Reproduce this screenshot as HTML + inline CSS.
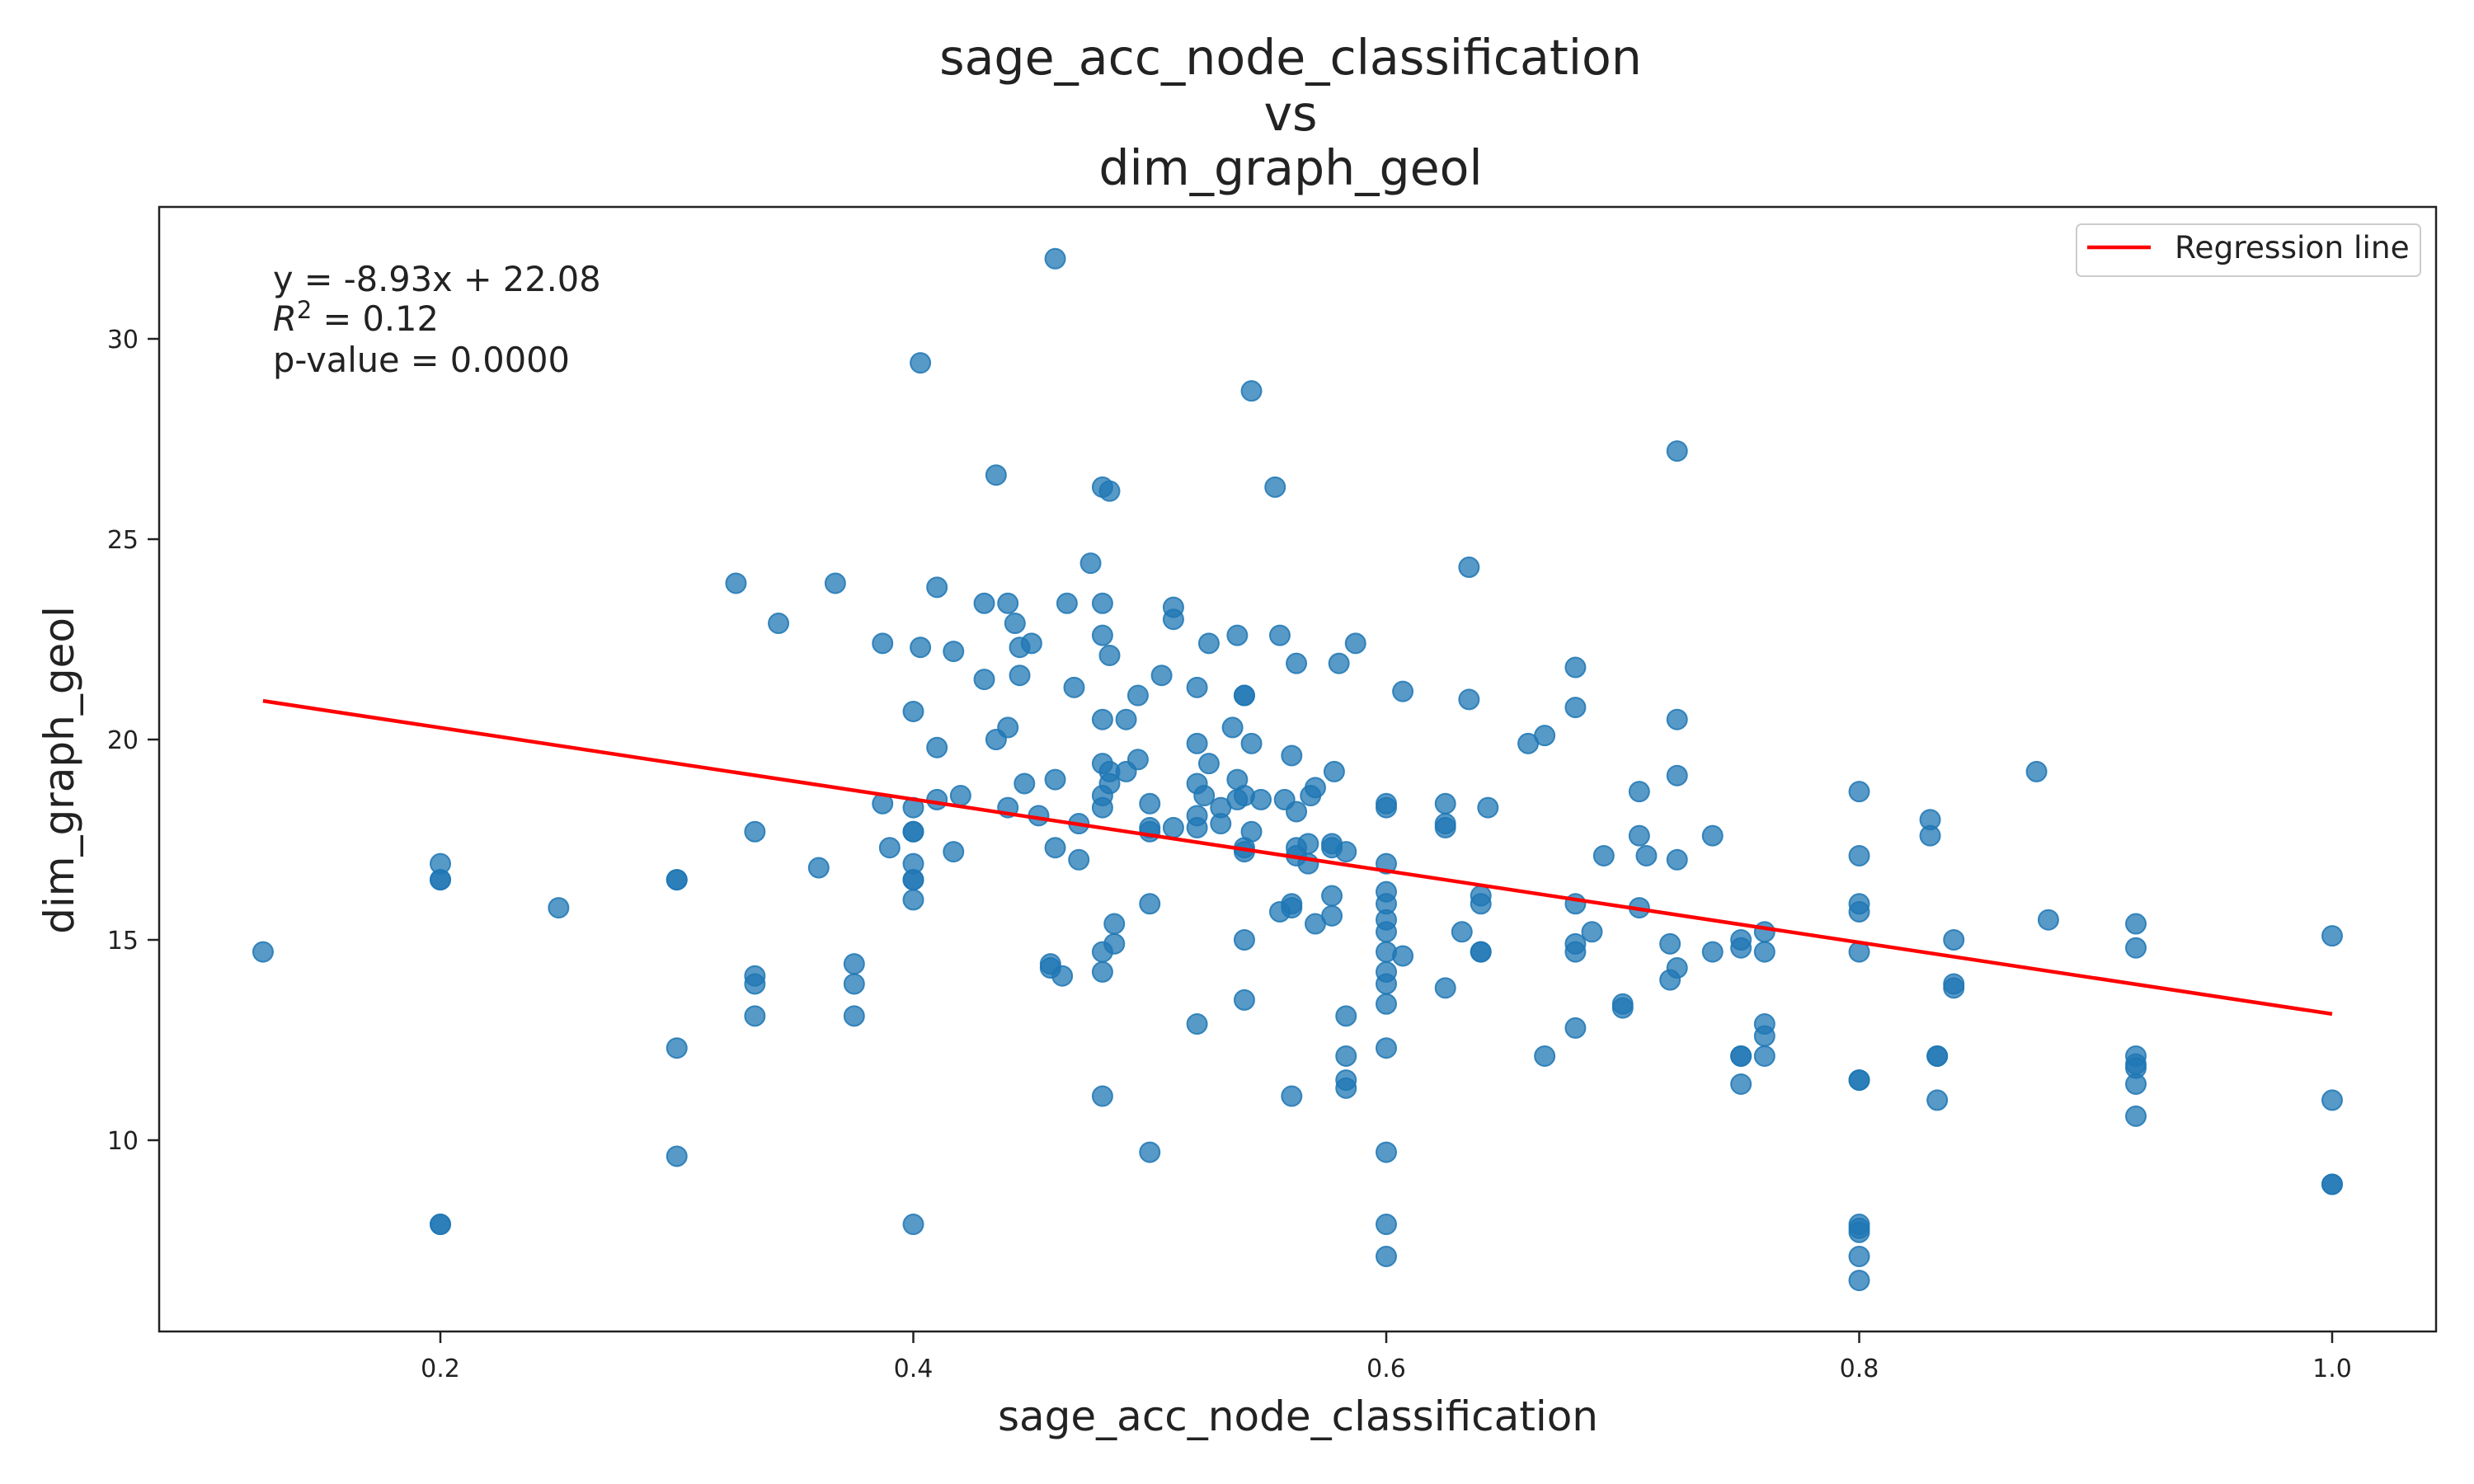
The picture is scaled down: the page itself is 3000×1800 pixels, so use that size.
<!DOCTYPE html>
<html><head><meta charset="utf-8"><style>
html,body{margin:0;padding:0;background:#fff;}
svg{display:block;font-family:"DejaVu Sans","Liberation Sans",sans-serif;}
</style></head><body>
<svg id="chart" width="3000" height="1800" viewBox="0 0 3000 1800">
<rect width="3000" height="1800" fill="#fff"/>
<g font-size="58.5" fill="#222" text-anchor="middle">
<text x="1565" y="90">sage_acc_node_classification</text>
<text x="1565" y="158">vs</text>
<text x="1565" y="224">dim_graph_geol</text>
</g>
<g id="xticks"></g>
<g id="yticks"></g>
<g id="points"></g>
<g id="reg"></g>
<rect x="193" y="251" width="2761" height="1364" fill="none" stroke="#222" stroke-width="2.5"/>
<text x="1574" y="1735" font-size="50" fill="#222" text-anchor="middle">sage_acc_node_classification</text>
<text x="0" y="0" font-size="50" fill="#222" text-anchor="middle" transform="translate(89,934) rotate(-90)">dim_graph_geol</text>
<g font-size="41.5" fill="#222">
<text x="331" y="353">y = -8.93x + 22.08</text>
<text x="331" y="401"><tspan font-style="italic">R</tspan><tspan dy="-15" font-size="29">2</tspan><tspan dy="15"> = 0.12</tspan></text>
<text x="331" y="451">p-value = 0.0000</text>
</g>
<g>
<rect x="2518" y="272" width="417" height="63" rx="6" fill="#fff" stroke="#ccc" stroke-width="2"/>
<line x1="2531" y1="300" x2="2608" y2="300" stroke="#ff0000" stroke-width="4.5"/>
<text x="2637" y="313" font-size="37.5" fill="#222">Regression line</text>
</g>
</svg>
<script>
const xs = [0.125,0.2,0.2,0.2,0.2,0.2,0.25,0.3,0.3,0.3,0.3,0.333,0.333,0.333,0.333,0.325,0.343,0.36,0.367,0.375,0.375,0.375,0.387,0.387,0.39,0.4,0.4,0.4,0.4,0.4,0.4,0.4,0.4,0.4,0.403,0.403,0.41,0.41,0.41,0.417,0.417,0.42,0.43,0.43,0.435,0.435,0.44,0.44,0.44,0.443,0.445,0.445,0.447,0.45,0.453,0.458,0.458,0.46,0.46,0.46,0.463,0.465,0.468,0.47,0.47,0.475,0.48,0.48,0.48,0.48,0.48,0.48,0.48,0.48,0.48,0.48,0.483,0.483,0.483,0.483,0.485,0.485,0.49,0.49,0.495,0.495,0.5,0.5,0.5,0.5,0.5,0.505,0.51,0.51,0.51,0.52,0.52,0.52,0.52,0.52,0.52,0.523,0.525,0.525,0.53,0.53,0.535,0.537,0.537,0.537,0.54,0.54,0.54,0.54,0.54,0.54,0.54,0.543,0.543,0.543,0.547,0.553,0.555,0.555,0.557,0.56,0.56,0.56,0.56,0.562,0.562,0.562,0.562,0.567,0.567,0.568,0.57,0.57,0.577,0.577,0.577,0.577,0.578,0.58,0.583,0.583,0.583,0.583,0.583,0.587,0.6,0.6,0.6,0.6,0.6,0.6,0.6,0.6,0.6,0.6,0.6,0.6,0.6,0.6,0.6,0.607,0.607,0.625,0.625,0.625,0.625,0.632,0.635,0.635,0.64,0.64,0.64,0.64,0.643,0.66,0.667,0.667,0.68,0.68,0.68,0.68,0.68,0.68,0.687,0.692,0.7,0.7,0.707,0.707,0.707,0.71,0.72,0.72,0.723,0.723,0.723,0.723,0.723,0.738,0.738,0.75,0.75,0.75,0.75,0.75,0.76,0.76,0.76,0.76,0.76,0.8,0.8,0.8,0.8,0.8,0.8,0.8,0.8,0.8,0.8,0.8,0.8,0.83,0.83,0.833,0.833,0.833,0.84,0.84,0.84,0.875,0.88,0.917,0.917,0.917,0.917,0.917,0.917,0.917,1.0,1.0,1.0,1.0];
const ys = [14.7,16.9,16.5,16.5,7.9,7.9,15.8,16.5,16.5,12.3,9.6,17.7,14.1,13.9,13.1,23.9,22.9,16.8,23.9,14.4,13.9,13.1,22.4,18.4,17.3,20.7,18.3,17.7,17.7,16.9,16.5,16.5,16.0,7.9,29.4,22.3,23.8,19.8,18.5,22.2,17.2,18.6,23.4,21.5,26.6,20.0,23.4,20.3,18.3,22.9,22.3,21.6,18.9,22.4,18.1,14.4,14.3,32.0,19.0,17.3,14.1,23.4,21.3,17.9,17.0,24.4,26.3,23.4,22.6,20.5,19.4,18.6,18.3,14.7,14.2,11.1,26.2,19.2,18.9,22.1,15.4,14.9,20.5,19.2,21.1,19.5,17.8,17.7,15.9,9.7,18.4,21.6,23.3,23.0,17.8,21.3,19.9,18.9,18.1,17.8,12.9,18.6,22.4,19.4,18.3,17.9,20.3,22.6,19.0,18.5,21.1,21.1,18.6,17.3,17.2,15.0,13.5,28.7,19.9,17.7,18.5,26.3,22.6,15.7,18.5,19.6,15.9,15.8,11.1,21.9,18.2,17.3,17.1,17.4,16.9,18.6,18.8,15.4,17.4,17.3,16.1,15.6,19.2,21.9,17.2,13.1,12.1,11.5,11.3,22.4,18.4,18.3,16.9,16.2,15.9,15.5,15.2,14.7,14.2,13.9,13.4,12.3,9.7,7.9,7.1,21.2,14.6,18.4,17.9,17.8,13.8,15.2,24.3,21.0,16.1,15.9,14.7,14.7,18.3,19.9,20.1,12.1,21.8,20.8,15.9,14.9,14.7,12.8,15.2,17.1,13.4,13.3,18.7,17.6,15.8,17.1,14.9,14.0,27.2,20.5,19.1,17.0,14.3,14.7,17.6,15.0,14.8,12.1,12.1,11.4,15.2,14.7,12.9,12.6,12.1,18.7,17.1,15.9,15.7,14.7,11.5,11.5,7.9,7.8,7.7,7.1,6.5,18.0,17.6,12.1,12.1,11.0,15.0,13.9,13.8,19.2,15.5,15.4,14.8,12.1,11.9,11.8,11.4,10.6,15.1,11.0,8.9,8.9];
const xTickVals = [0.2,0.4,0.6,0.8,1.0];
const xTickLabels = ["0.2","0.4","0.6","0.8","1.0"];
const yTickVals = [10,15,20,25,30];
const yTickLabels = ["10","15","20","25","30"];
const slope = -8.93;
const intercept = 22.08;

const NS = "http://www.w3.org/2000/svg";
function sx(v){ return 534 + (v - 0.2) * (2828 - 534) / 0.8; }
function sy(v){ return 1383 - (v - 10) * (1383 - 411) / 20; }
function mk(tag, attrs){ const e = document.createElementNS(NS, tag); for (const k in attrs) e.setAttribute(k, attrs[k]); return e; }

const xg = document.getElementById('xticks');
xTickVals.forEach((v,i)=>{
  const t = mk('line',{x1:sx(v),x2:sx(v),y1:1615,y2:1629,stroke:'#222','stroke-width':2.5});
  
  
  xg.appendChild(t);
  const l = mk('text',{x:sx(v),y:1670,'font-size':30,fill:'#222','text-anchor':'middle'});
  
  
  l.textContent = xTickLabels[i];
  xg.appendChild(l);
});
const yg = document.getElementById('yticks');
yTickVals.forEach((v,i)=>{
  const t = mk('line',{x1:179,x2:193,y1:sy(v),y2:sy(v),stroke:'#222','stroke-width':2.5});
  
  
  yg.appendChild(t);
  const l = mk('text',{x:168,y:sy(v)+11,'font-size':30,fill:'#222','text-anchor':'end'});
  
  
  l.textContent = yTickLabels[i];
  yg.appendChild(l);
});
const pg = document.getElementById('points');
xs.forEach((x,i)=>{
  const c = mk('circle',{cx:sx(x),cy:sy(ys[i]),r:12,fill:'#1f77b4','fill-opacity':0.75,stroke:'#1f77b4','stroke-opacity':0.85,'stroke-width':2});
  
  
  pg.appendChild(c);
});
const xmin = Math.min(...xs), xmax = Math.max(...xs);
const rl = mk('line',{x1:sx(xmin),y1:sy(slope*xmin+intercept),x2:sx(xmax),y2:sy(slope*xmax+intercept),stroke:'#ff0000','stroke-width':4.5});


document.getElementById('reg').appendChild(rl);
</script>
</body></html>
